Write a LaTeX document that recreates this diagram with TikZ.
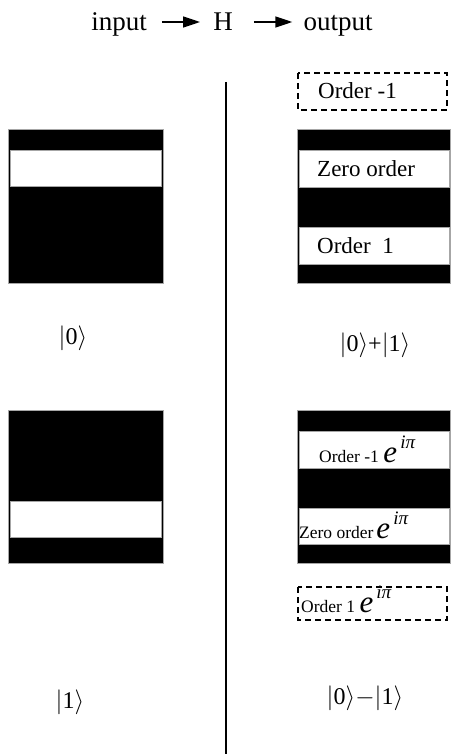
\documentclass[tikz,border=0pt]{standalone}
\usepackage{xcolor}
\usepackage{amsmath}
\usepackage{fontspec}
\setmainfont{Liberation Serif}
\usepackage{tikz}
\usetikzlibrary{arrows.meta,positioning}

\newcommand{\phasefac}{{\fontsize{31}{33}\selectfont\itshape e\raisebox{0.45em}{\fontsize{19}{21}\selectfont\,iπ}}}

\begin{document}
\begin{tikzpicture}[x=1pt,y=-1pt,
    plate/.style={fill=black,draw=gray!70,line width=0.6pt},
    slit/.style={fill=white,draw=gray!70,line width=0.6pt},
    ghost/.style={draw,dashed,dash pattern=on 6pt off 4pt,line width=1.2pt},
    bigtxt/.style={font=\fontsize{23}{26}\selectfont,inner sep=0pt,anchor=base west},
    smalltxt/.style={font=\fontsize{17.5}{20}\selectfont,inner sep=0pt,anchor=base west},
    ket/.style={font=\fontsize{24}{28}\selectfont,inner sep=0pt},
    title/.style={font=\fontsize{27}{30}\selectfont,inner sep=0pt,text height=18pt,text depth=0pt},
    flow/.style={-{Triangle[length=17pt,width=11pt]},line width=1.6pt}]
    \useasboundingbox (0,0) rectangle (450,754);

    \node[title] (input) at (119,22) {input};
    \node[title] (gate) at (223,22) {H};
    \node[title] (output) at (338,22) {output};
    \draw[flow, shorten <=15pt, shorten >=13pt] (input) -- (gate);
    \draw[flow, shorten <=21pt, shorten >=11pt] (gate) -- (output);

    \draw[line width=2pt] (226,82) -- (226,754);

    \draw[plate] (8,129) rectangle (163,283);
    \draw[slit] (10,150) rectangle (161,186);
    \draw[plate] (8,410) rectangle (163,563);
    \draw[slit] (10,501) rectangle (161,537);

    \draw[ghost] (298,73) rectangle (447,110);
    \draw[plate] (297,129) rectangle (450,283);
    \draw[slit] (299,150) rectangle (449,187);
    \draw[slit] (299,227) rectangle (449,264);
    \draw[plate] (297,410) rectangle (450,563);
    \draw[slit] (299,431) rectangle (449,468);
    \draw[slit] (299,508) rectangle (449,544);
    \draw[ghost] (298,587) rectangle (447,620);

    \node[bigtxt] (ordmone) at (318,99) {Order -1};
    \node[bigtxt] (zeroa) at (317,177) {Zero order};
    \node[bigtxt] (ordone) at (317,253) {Order\ \ 1};
    \node[smalltxt] (ordmoneb) at (319,462) {Order -1 \phasefac};
    \node[smalltxt] (zerob) at (299,538) {Zero order\,\phasefac};
    \node[smalltxt] (ordoneb) at (301,612) {Order 1 \phasefac};

    \node[ket] (inzero) at (73,338) {$|$0$\rangle$};
    \node[ket] (inone) at (70,702) {$|$1$\rangle$};
    \node[ket] (outplus) at (375,345) {$|$0$\rangle$+$|$1$\rangle$};
    \node[ket] (outminus) at (365,698) {$|$0$\rangle$$-$$|$1$\rangle$};
\end{tikzpicture}
\end{document}
